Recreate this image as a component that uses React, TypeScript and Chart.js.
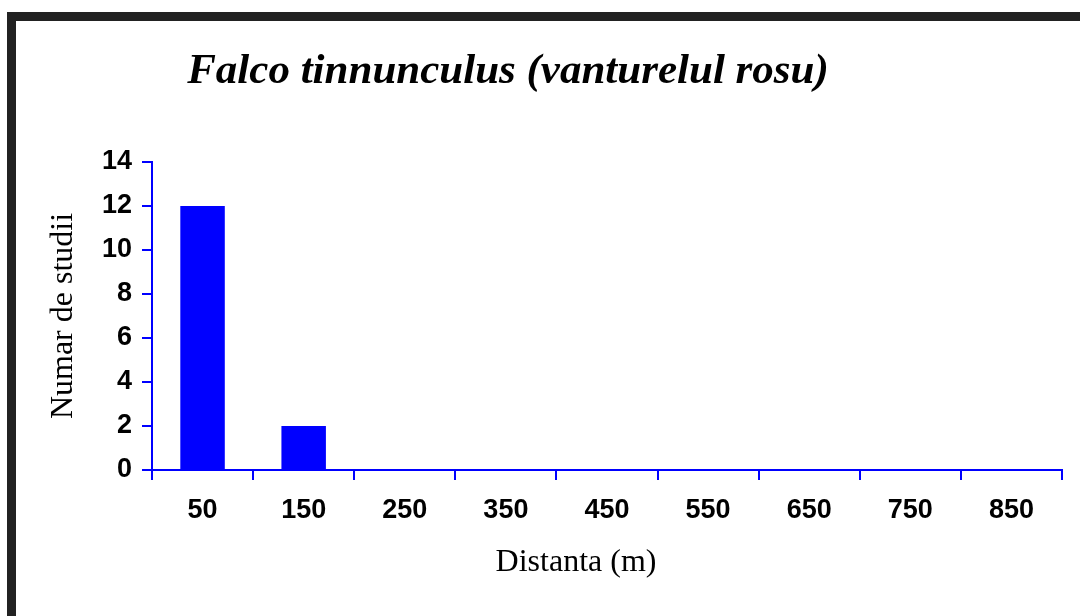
import React, { useEffect, useRef } from "react";
import { Chart, registerables } from "chart.js";

Chart.register(...registerables);

const chartTitle = "Falco tinnunculus (vanturelul rosu)";
const categories = ["50", "150", "250", "350", "450", "550", "650", "750", "850"];
const studyCounts = [12, 2, 0, 0, 0, 0, 0, 0, 0];
const yTickMax = 14;
const yTickStep = 2;
const xAxisTitle = "Distanta (m)";
const yAxisTitle = "Numar de studii";

const BLUE = "#0000FF";

const framePlugin = {
  id: "frameAndTitle",
  beforeDraw(chart: any) {
    const ctx = chart.ctx;
    ctx.save();
    ctx.fillStyle = "#ffffff";
    ctx.fillRect(0, 0, chart.width, chart.height);
    ctx.strokeStyle = "#222222";
    ctx.lineWidth = 9;
    ctx.strokeRect(11.5, 16.5, chart.width + 50, chart.height + 50);
    ctx.restore();
  },
  afterDraw(chart: any) {
    const ctx = chart.ctx;
    ctx.save();
    ctx.fillStyle = "#000000";
    ctx.font = "italic bold 43px 'Liberation Serif', 'Times New Roman', serif";
    ctx.textAlign = "center";
    ctx.textBaseline = "middle";
    ctx.fillText(chartTitle, 508, 72);
    ctx.font = "normal 32px 'Liberation Serif', 'Times New Roman', serif";
    ctx.fillText(xAxisTitle, 576, 563);
    ctx.restore();
  },
};

export default function App() {
  const canvasRef = useRef<HTMLCanvasElement | null>(null);

  useEffect(() => {
    if (!canvasRef.current) return;
    const chart = new Chart(canvasRef.current, {
      type: "bar",
      data: {
        labels: categories,
        datasets: [
          {
            data: studyCounts,
            backgroundColor: BLUE,
            borderWidth: 0,
            categoryPercentage: 1,
            barPercentage: 0.44,
          },
        ],
      },
      plugins: [framePlugin],
      options: {
        responsive: false,
        animation: false,
        layout: { padding: { top: 162, left: 0, right: 18, bottom: 0 } },
        plugins: {
          legend: { display: false },
          title: { display: false },
          tooltip: { enabled: false },
        },
        scales: {
          x: {
            offset: true,
            afterFit(scale: any) {
              scale.height = 146;
            },
            grid: {
              offset: true,
              drawOnChartArea: false,
              drawTicks: true,
              tickLength: 10,
              color: BLUE,
              lineWidth: 2,
            },
            border: { color: BLUE, width: 2 },
            ticks: {
              color: "#000000",
              padding: 14,
              maxRotation: 0,
              font: { family: "'Liberation Sans', Arial, sans-serif", size: 27, weight: "bold" },
            },
            title: { display: false, text: xAxisTitle },
          },
          y: {
            min: 0,
            max: yTickMax,
            afterFit(scale: any) {
              scale.width = 152;
            },
            grid: {
              drawOnChartArea: false,
              drawTicks: true,
              tickLength: 10,
              color: BLUE,
              lineWidth: 2,
            },
            border: { color: BLUE, width: 2 },
            ticks: {
              stepSize: yTickStep,
              color: "#000000",
              padding: 10,
              font: { family: "'Liberation Sans', Arial, sans-serif", size: 27, weight: "bold" },
            },
            title: {
              display: true,
              text: yAxisTitle,
              color: "#000000",
              padding: { top: 44, bottom: 0 },
              font: { family: "'Liberation Serif', 'Times New Roman', serif", size: 32, weight: "normal" },
            },
          },
        },
      },
    });
    return () => chart.destroy();
  }, []);

  return (
    <div style={{ position: "absolute", left: 0, top: 0, width: 1080, height: 616, background: "#fff" }}>
      <canvas ref={canvasRef} width={1080} height={616} style={{ display: "block", width: 1080, height: 616 }} />
    </div>
  );
}
